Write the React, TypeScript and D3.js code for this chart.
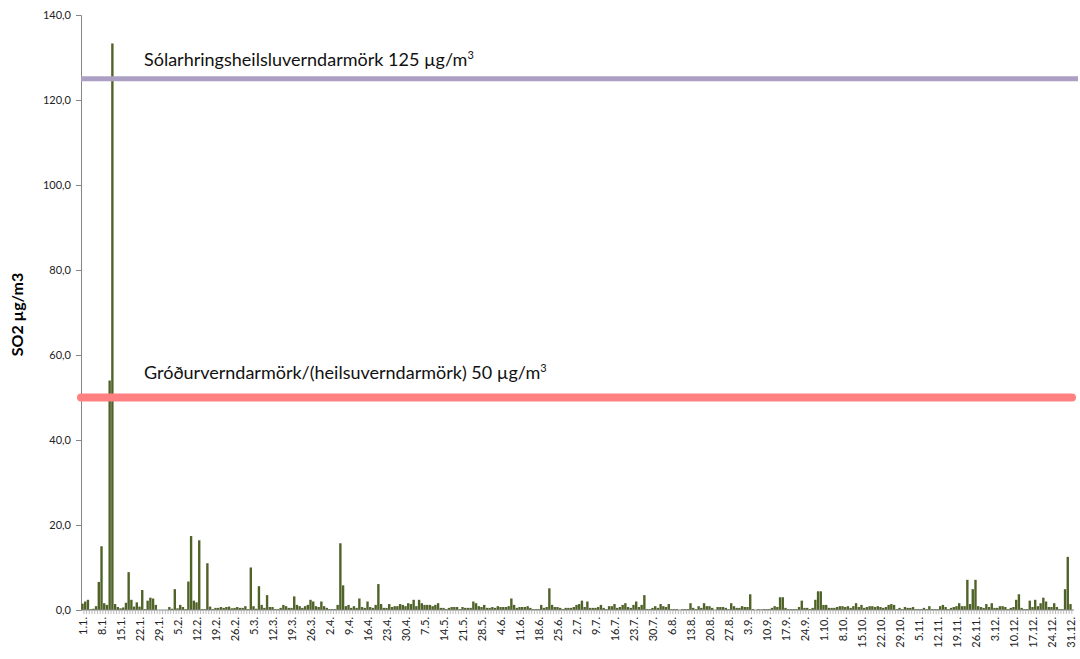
import React, { useEffect, useRef } from "react";
import * as d3 from "d3";

// daily SO2 averages (µg/m3), 1.1. - 31.12.
const so2: number[] = [
  1.5, 2.0, 2.4, 0.2, 0.3, 0.9, 6.6, 15.0, 1.6, 1.2,
  54.0, 133.3, 1.4, 0.7, 0.4, 0.6, 1.7, 8.9, 2.4, 0.8,
  1.8, 0.8, 4.7, 0.2, 2.2, 2.9, 2.7, 1.2, 0, 0,
  0, 0, 0.7, 0.3, 4.9, 0.4, 1.2, 0.7, 0.2, 6.7,
  17.4, 2.2, 1.8, 16.4, 0.2, 0.2, 11.0, 0.8, 0.2, 0.5,
  0.5, 0.7, 0.5, 0.7, 0.8, 0.4,
  0.5, 0.7, 0.5, 0.5, 0.9, 0.2, 10.0, 0.9, 0.3, 5.6,
  1.2, 0.5, 3.5, 0.7, 0.7, 0.2, 0.2, 0.5, 1.2, 0.9,
  0.5, 0.5, 3.2, 1.2, 0.9, 0.5, 0.9, 1.2, 2.4, 2.0,
  0.9, 0.7, 2.0, 0.9, 0.5, 0.2, 0.2, 0.2, 1.2, 15.7,
  5.8, 0.9, 1.2, 0.5, 0.9, 0.5, 2.7, 0.7, 0.5, 2.0,
  0.7, 0.5, 1.2, 6.1, 1.4, 0.5, 0.5, 1.4, 0.7, 0.9,
  0.9, 1.4, 1.2,
  0.9, 1.6, 1.4, 2.4, 0.9, 2.4, 1.6, 1.2, 1.2, 1.2,
  0.9, 1.2, 1.6, 0.5, 0.5, 0.2, 0.5, 0.7, 0.7, 0.7,
  0.2, 0.7, 0.5, 0.5, 0.5, 2.0, 1.6, 0.9, 0.7, 1.2,
  0.5, 0.5, 0.7, 0.5, 0.9, 0.7, 0.7, 0.7, 0.9, 2.7,
  1.2, 0.5, 0.7, 0.7, 0.7, 0.9, 0.5, 0.2, 0.2, 0.2,
  1.2, 0.5, 0.7, 5.1, 1.2, 0.7, 0.7, 0.5, 0.2, 0.5,
  0.5,
  0.5, 0.7, 1.2, 1.4, 2.2, 0.7, 2.0, 0.5, 0.5, 0.5,
  0.7, 1.2, 0.5, 0.2, 0.9, 0.9, 1.4, 0.5, 0.7, 1.2,
  1.6, 0.7, 0.5, 1.2, 2.0, 0.7, 1.2, 3.5, 0.2, 0.2,
  0.5, 0.9, 0.5, 1.4, 0.9, 0.7, 1.4, 0.2, 0.2, 0.2,
  0, 0.2, 0.2, 0.2, 1.6, 0.5, 0.2, 0.9, 0.5, 1.6,
  0.9, 0.9, 0.5, 0, 0.7, 0.7, 0.7, 0.5, 0.2, 1.6,
  0.9, 0.5, 0.5, 0.9, 0.7, 0.7, 3.7, 0.2, 0, 0.2,
  0.1, 0.2, 0.2, 0.2, 0.5, 0.9, 0.7, 3.0, 3.0, 0.5,
  0.2, 0.2, 0.2, 0.2, 0.7, 2.2, 0.5, 0.5, 0.2, 0.5,
  2.4, 4.4, 4.4, 1.2, 1.2, 0.5, 0.5, 0.5, 0.7, 0.9,
  0.9, 0.7, 0.9, 0.5, 0.9, 1.6, 0.7, 1.2, 0.5, 0.7,
  0.9, 0.9, 0.7, 0.9, 0.7, 0.5, 0.7, 1.2, 1.4, 1.2,
  0.2, 0.5,
  0.2, 0.7, 0.5, 0.5, 0.7, 0.2, 0.2, 0.2, 0.5, 0.2,
  0.9, 0.2, 0.2, 0.2, 0.9, 1.2, 0.7, 0.2, 0.5, 0.7,
  0.9, 1.6, 0.9, 0.9, 7.1, 1.4, 4.9, 7.1, 0.9, 0.7,
  0.5, 1.4, 0.7, 1.6, 0.5, 0.5, 0.9, 0.9, 0.7, 0.2,
  0.5, 0.7, 2.4, 3.7, 0.5, 0.2, 0.2, 2.2, 0.7, 2.4,
  0.9, 1.6, 2.9, 2.0, 0.7, 0.7, 1.6, 0.7, 0.2, 0.2,
  4.9, 12.5, 1.4,
];

// one label per week, starting at 1.1.
const weekLabels: string[] = [
  "1.1.", "8.1.", "15.1.", "22.1.", "29.1.", "5.2.", "12.2.", "19.2.", "26.2.",
  "5.3.", "12.3.", "19.3.", "26.3.", "2.4.", "9.4.", "16.4.", "23.4.", "30.4.",
  "7.5.", "14.5.", "21.5.", "28.5.", "4.6.", "11.6.", "18.6.", "25.6.", "2.7.",
  "9.7.", "16.7.", "23.7.", "30.7.", "6.8.", "13.8.", "20.8.", "27.8.", "3.9.",
  "10.9.", "17.9.", "24.9.", "1.10.", "8.10.", "15.10.", "22.10.", "29.10.",
  "5.11.", "12.11.", "19.11.", "26.11.", "3.12.", "10.12.", "17.12.", "24.12.",
  "31.12.",
];

const yTicks: number[] = [0, 20, 40, 60, 80, 100, 120, 140];

const limits = [
  { value: 125, label: "Sólarhringsheilsluverndarmörk 125 µg/m", color: "#ab9fc3", width: 5, dy: -13, cap: "butt", end: 0 },
  { value: 50, label: "Gróðurverndarmörk/(heilsuverndarmörk) 50 µg/m", color: "#ff8080", width: 8, dy: -19, cap: "round", end: 6 },
];

const W = 1080;
const H = 659;
const margin = { top: 15, right: 2, bottom: 49, left: 81 };

const App = () => {
  const ref = useRef<SVGSVGElement>(null);

  useEffect(() => {
    draw();
  });

  const draw = () => {
    const svg = d3.select(ref.current);
    svg.selectAll("*").remove();
    const font = "Lato, 'Liberation Sans', sans-serif";

    const innerW = W - margin.left - margin.right;
    const innerH = H - margin.top - margin.bottom;
    const g = svg.append("g").attr("transform", `translate(${margin.left}, ${margin.top})`);

    const days = so2.map((_, i) => i);
    const x = d3.scaleBand<number>().domain(days).range([0, innerW - 6]).padding(0.12);
    const y = d3.scaleLinear().domain([0, 140]).range([innerH, 0]);

    // y axis
    const yAxis = g.append("g").call(
      d3.axisLeft(y).tickValues(yTicks).tickSize(5).tickPadding(5)
        .tickFormat((d) => d3.format(".1f")(d as number).replace(".", ","))
    );
    yAxis.select(".domain").attr("stroke", "#868686");
    yAxis.selectAll(".tick line").attr("stroke", "#868686");
    yAxis.selectAll("text").attr("font-family", font).attr("font-size", 11).attr("fill", "#222");

    // bars
    g.append("g")
      .selectAll("rect")
      .data(so2)
      .join("rect")
      .attr("x", (_, i) => x(i) as number)
      .attr("width", x.bandwidth())
      .attr("y", (d) => y(d))
      .attr("height", (d) => innerH - y(d))
      .attr("fill", "#4f6228");

    // x axis with a tick for every day
    const xAxis = g.append("g").attr("transform", `translate(0, ${innerH})`);
    xAxis.append("line").attr("x1", 0).attr("x2", innerW - 4).attr("stroke", "#868686");
    xAxis.selectAll("line.day")
      .data(days)
      .join("line")
      .attr("class", "day")
      .attr("x1", (d) => (x(d) as number) + x.step() * 0.94)
      .attr("x2", (d) => (x(d) as number) + x.step() * 0.94)
      .attr("y1", 0)
      .attr("y2", 4)
      .attr("stroke", "#a6a6a6")
      .attr("stroke-width", 0.8);

    xAxis.selectAll("text")
      .data(weekLabels)
      .join("text")
      .attr("transform", (_, k) => `translate(${(x(k * 7) as number) + x.bandwidth() / 2 + 1}, 7) rotate(-90)`)
      .attr("dy", "0.35em")
      .attr("text-anchor", "end")
      .attr("font-family", font)
      .attr("font-size", 11)
      .attr("fill", "#222")
      .text((d) => d);

    // limit lines
    limits.forEach((l) => {
      g.append("line")
        .attr("x1", 0)
        .attr("x2", innerW - l.end)
        .attr("y1", y(l.value))
        .attr("y2", y(l.value))
        .attr("stroke", l.color)
        .attr("stroke-width", l.width)
        .attr("stroke-linecap", l.cap);
      const t = g.append("text")
        .attr("x", 63)
        .attr("y", y(l.value) + l.dy)
        .attr("font-family", font)
        .attr("font-size", 18)
        .attr("fill", "#111")
        .text(l.label);
      t.append("tspan").attr("dy", -7).attr("font-size", 11).text("3");
    });

    // y title
    svg.append("text")
      .attr("transform", `translate(23, ${margin.top + innerH / 2 + 2}) rotate(-90)`)
      .attr("text-anchor", "middle")
      .attr("font-family", font)
      .attr("font-weight", "bold")
      .attr("font-size", 16)
      .attr("fill", "#000")
      .text("SO2 µg/m3");
  };

  return (
    <div style={{ position: "absolute", left: 0, top: 0 }}>
      <svg ref={ref} width={W} height={H} style={{ display: "block", background: "#fff" }} />
    </div>
  );
};

export default App;
